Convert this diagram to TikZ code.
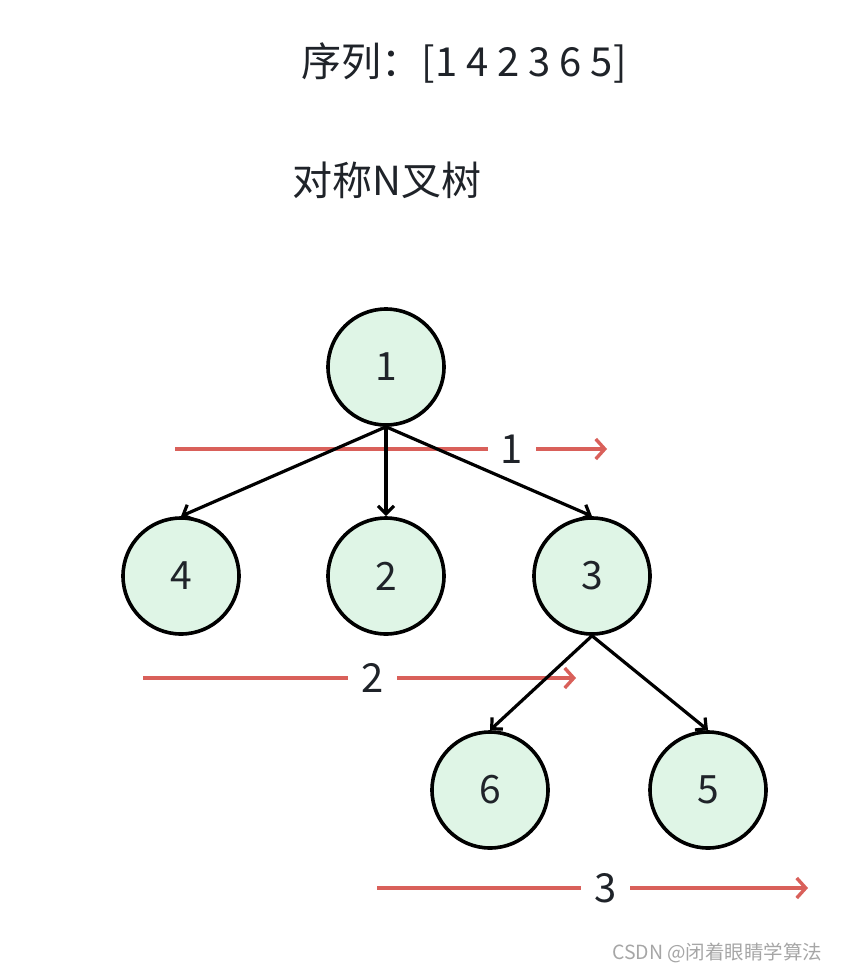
\documentclass[tikz,border=0pt]{standalone}
\usepackage{fontspec}
\setmainfont{Noto Sans CJK SC}
\usepackage{xcolor}
\usetikzlibrary{arrows.meta,positioning}
\definecolor{nodefill}{HTML}{DFF5E6}
\definecolor{textdark}{HTML}{1F2329}
\definecolor{levelred}{HTML}{D9605A}
\begin{document}
\begin{tikzpicture}[
  x=1pt, y=-1pt,
  tnode/.style={draw, circle, line width=3.6pt, fill=nodefill, minimum size=116pt, inner sep=0pt, text=textdark, font=\fontsize{39}{44}\selectfont},
  edge/.style={-{Straight Barb[length=8pt,width=16pt]}, line width=3.2pt},
  level/.style={-{Straight Barb[length=9pt,width=20pt]}, line width=3.4pt, draw=levelred},
  levellabel/.style={fill=white, inner xsep=13pt, text=textdark, font=\fontsize{40}{46}\selectfont}
]
  \useasboundingbox (0,0) rectangle (841,972);

  \node[text=textdark, font=\fontsize{40}{46}\selectfont] (seq) at (464,63) {序列：[1 4 2 3 6 5]};
  \node[text=textdark, font=\fontsize{40}{46}\selectfont] (title) at (387,180) {对称N叉树};

  \node[tnode] (n1) at (386,367) {1};
  \node[tnode] (n4) at (181,576) {4};
  \node[tnode] (n2) at (386,576) {2};
  \node[tnode] (n3) at (592,576) {3};
  \node[tnode] (n6) at (490,790) {6};
  \node[tnode] (n5) at (708,790) {5};

  % level markers
  \coordinate (l1a) at (175,449);
  \coordinate (l1b) at (607,449);
  \coordinate (l2a) at (143,678);
  \coordinate (l2b) at (576,678);
  \coordinate (l3a) at (377,888);
  \coordinate (l3b) at (808,888);
  \draw[level] (l1a) -- (l1b) node[levellabel, pos=0.78] {1};
  \draw[level] (l2a) -- (l2b) node[levellabel, pos=0.53] {2};
  \draw[level] (l3a) -- (l3b) node[levellabel, pos=0.53] {3};

  \draw[edge] (n1.south) -- (n4.north);
  \draw[edge] (n1.south) -- (n2.north);
  \draw[edge] (n1.south) -- (n3.north);
  \draw[edge] (n3.south) -- (n6.north);
  \draw[edge] (n3.south) -- (n5.north);

  \node[text=gray!70, font=\fontsize{19.5}{24}\selectfont, anchor=east] (mark) at (826,953) {CSDN @闭着眼睛学算法};
\end{tikzpicture}
\end{document}
